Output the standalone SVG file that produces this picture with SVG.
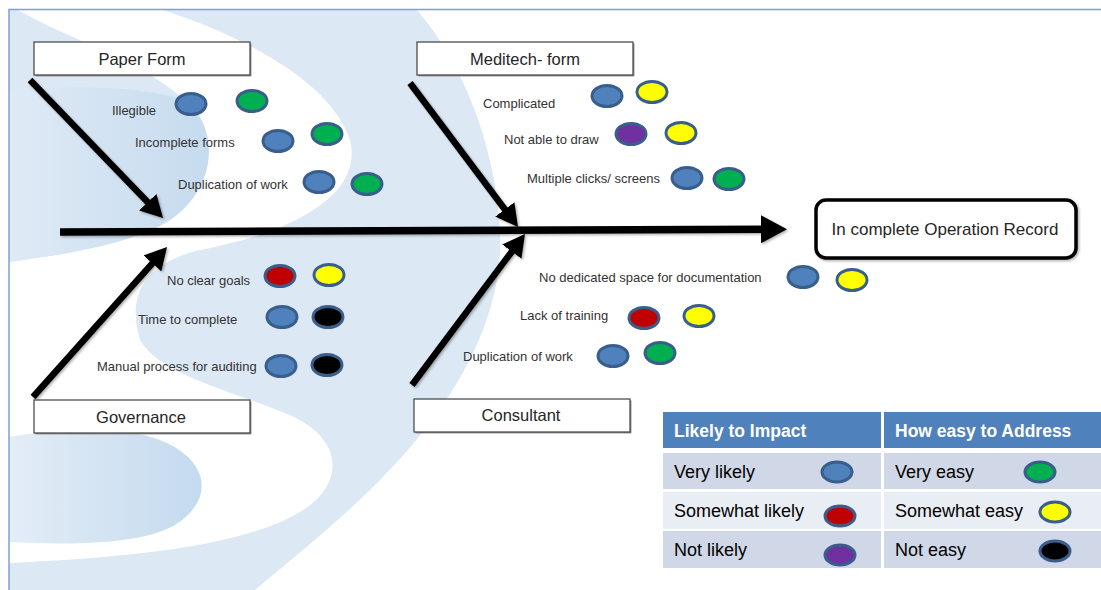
<svg xmlns="http://www.w3.org/2000/svg" width="1101" height="590" viewBox="0 0 1101 590">
  <defs>
    <linearGradient id="blobUpper" x1="0" y1="0" x2="1" y2="0">
      <stop offset="0" stop-color="#dfeaf6"/>
      <stop offset="1" stop-color="#c6dbee"/>
    </linearGradient>
    <linearGradient id="blobLower" x1="0" y1="0" x2="1" y2="0">
      <stop offset="0" stop-color="#e3edf7"/>
      <stop offset="1" stop-color="#c4daee"/>
    </linearGradient>
    <marker id="headMain" markerUnits="userSpaceOnUse" markerWidth="26" markerHeight="28" viewBox="0 0 26 28" refX="12" refY="14" orient="auto">
      <path d="M0,0 L26,14 L0,28 Z" fill="#000"/>
    </marker>
    <marker id="headBone" markerUnits="userSpaceOnUse" markerWidth="22" markerHeight="24" viewBox="0 0 22 24" refX="8" refY="12" orient="auto">
      <path d="M0,0 L22,12 L0,24 Z" fill="#000"/>
    </marker>
    <filter id="soft" x="-10%" y="-10%" width="130%" height="130%">
      <feDropShadow dx="1.5" dy="1.5" stdDeviation="1.2" flood-color="#000" flood-opacity="0.3"/>
    </filter>
    <style>
      .box { fill: #ffffff; stroke: #3f3f3f; stroke-width: 1.2; }
      .boxShadow { fill: #9a9a9a; }
      .boxText { font-family: "Liberation Sans", Arial, sans-serif; font-size: 16.5px; fill: #262626; text-anchor: middle; }
      .label { font-family: "Liberation Sans", Arial, sans-serif; font-size: 13px; fill: #333333; }
      .dot { stroke: #3a5e8c; stroke-width: 3; }
      .blue { fill: #4f81bd; }
      .green { fill: #00b050; }
      .yellow { fill: #ffff00; }
      .red { fill: #c00000; }
      .purple { fill: #7030a0; }
      .black { fill: #000000; }
      .bone { stroke: #000; stroke-width: 6.5; fill: none; }
      .legHead { fill: #4f81bd; }
      .legDark { fill: #d0d8e8; }
      .legLight { fill: #e9edf4; }
      .legHeadText { font-family: "Liberation Sans", Arial, sans-serif; font-size: 17.5px; font-weight: bold; fill: #ffffff; }
      .legText { font-family: "Liberation Sans", Arial, sans-serif; font-size: 18px; fill: #000000; }
    </style>
  </defs>

  <!-- page backdrop with the S-shaped swoosh -->
  <g id="backdrop">
    <rect x="0" y="0" width="1101" height="590" fill="#ffffff"/>
    <path d="M9,10 L417,10 C460,60 495,140 500,230 C505,330 440,420 380,480 C330,530 290,560 255,590 L9,590 Z" fill="#dce8f4"/>
    <path d="M18,10 L163,10 C240,35 330,80 350,140 C365,200 280,235 200,250 C150,262 125,290 140,340 C160,375 230,390 290,415 C345,440 345,485 300,512 C240,548 120,558 9,563 L9,262 C60,255 130,245 170,220 C215,190 222,130 185,100 C140,60 70,40 18,10 Z" fill="#ffffff"/>
    <path d="M9,90 C80,84 150,88 185,100 C222,130 215,190 170,220 C130,245 60,255 9,262 Z" fill="url(#blobUpper)"/>
    <path d="M9,437 C60,428 120,425 160,440 C210,460 215,500 175,525 C140,545 70,545 9,542 Z" fill="url(#blobLower)"/>
    <path d="M9,590 L9,9.5 L1101,9.5" fill="none" stroke="#7f9fd6" stroke-width="1.5"/>
  </g>

  <!-- spine and bones -->
  <g id="connectors" filter="url(#soft)">
    <line x1="60" y1="232" x2="773" y2="229.2" stroke="#000" stroke-width="7.5" marker-end="url(#headMain)"/>
    <line class="bone" x1="30" y1="80" x2="153.3" y2="207.9" marker-end="url(#headBone)"/>
    <line class="bone" x1="410" y1="83" x2="509.6" y2="215.8" marker-end="url(#headBone)"/>
    <line class="bone" x1="33" y1="397" x2="157.7" y2="257.4" marker-end="url(#headBone)"/>
    <line class="bone" x1="412" y1="385" x2="516.6" y2="245.2" marker-end="url(#headBone)"/>
  </g>

  <!-- category boxes -->
  <g id="paper-form">
    <rect class="boxShadow" x="35.5" y="43.5" width="216" height="33"/>
    <rect class="box" x="34" y="42" width="216" height="33"/>
    <text class="boxText" x="142" y="65">Paper Form</text>
  </g>
  <g id="meditech-form">
    <rect class="boxShadow" x="418.5" y="43.5" width="216" height="33"/>
    <rect class="box" x="417" y="42" width="216" height="33"/>
    <text class="boxText" x="525" y="65">Meditech- form</text>
  </g>
  <g id="governance">
    <rect class="boxShadow" x="35.5" y="401.5" width="216" height="33"/>
    <rect class="box" x="34" y="400" width="216" height="33"/>
    <text class="boxText" x="141" y="423">Governance</text>
  </g>
  <g id="consultant">
    <rect class="boxShadow" x="415.5" y="400.5" width="216" height="33"/>
    <rect class="box" x="414" y="399" width="216" height="33"/>
    <text class="boxText" x="521" y="421">Consultant</text>
  </g>
  <g id="outcome">
    <rect x="816" y="200" width="260" height="58" rx="10" fill="#ffffff" stroke="#000" stroke-width="3.5" filter="url(#soft)"/>
    <text class="boxText" x="945" y="235" style="font-size:17px">In complete Operation Record</text>
  </g>

  <!-- Paper Form causes -->
  <g id="paper-causes">
    <text class="label" x="112" y="115">Illegible</text>
    <ellipse class="dot blue" cx="191" cy="104" rx="15" ry="10.5"/>
    <ellipse class="dot green" cx="252" cy="101" rx="15" ry="10.5"/>
    <text class="label" x="135" y="147">Incomplete forms</text>
    <ellipse class="dot blue" cx="278" cy="141" rx="15" ry="10.5"/>
    <ellipse class="dot green" cx="327" cy="134" rx="15" ry="10.5"/>
    <text class="label" x="178" y="189">Duplication of work</text>
    <ellipse class="dot blue" cx="319" cy="182" rx="15" ry="10.5"/>
    <ellipse class="dot green" cx="367" cy="184" rx="15" ry="10.5"/>
  </g>

  <!-- Meditech causes -->
  <g id="meditech-causes">
    <text class="label" x="483" y="108">Complicated</text>
    <ellipse class="dot blue" cx="607" cy="96" rx="15" ry="10.5"/>
    <ellipse class="dot yellow" cx="652" cy="92" rx="15" ry="10.5"/>
    <text class="label" x="504" y="144">Not able to draw</text>
    <ellipse class="dot purple" cx="631" cy="134" rx="15" ry="10.5"/>
    <ellipse class="dot yellow" cx="681" cy="133" rx="15" ry="10.5"/>
    <text class="label" x="527" y="183">Multiple clicks/ screens</text>
    <ellipse class="dot blue" cx="687" cy="178" rx="15" ry="10.5"/>
    <ellipse class="dot green" cx="729" cy="179" rx="15" ry="10.5"/>
  </g>

  <!-- Governance causes -->
  <g id="governance-causes">
    <text class="label" x="167" y="285">No clear goals</text>
    <ellipse class="dot red" cx="280" cy="276" rx="15" ry="10.5"/>
    <ellipse class="dot yellow" cx="329" cy="275" rx="15" ry="10.5"/>
    <text class="label" x="138" y="324">Time to complete</text>
    <ellipse class="dot blue" cx="282" cy="317" rx="15" ry="10.5"/>
    <ellipse class="dot black" cx="328" cy="317" rx="15" ry="10.5"/>
    <text class="label" x="97" y="371">Manual process for auditing</text>
    <ellipse class="dot blue" cx="281" cy="366" rx="15" ry="10.5"/>
    <ellipse class="dot black" cx="327" cy="365" rx="15" ry="10.5"/>
  </g>

  <!-- Consultant causes -->
  <g id="consultant-causes">
    <text class="label" x="539" y="282">No dedicated space for documentation</text>
    <ellipse class="dot blue" cx="803" cy="277" rx="15" ry="10.5"/>
    <ellipse class="dot yellow" cx="852" cy="280" rx="15" ry="10.5"/>
    <text class="label" x="520" y="320">Lack of training</text>
    <ellipse class="dot red" cx="644" cy="318" rx="15" ry="10.5"/>
    <ellipse class="dot yellow" cx="699" cy="316" rx="15" ry="10.5"/>
    <text class="label" x="463" y="361">Duplication of work</text>
    <ellipse class="dot blue" cx="613" cy="356" rx="15" ry="10.5"/>
    <ellipse class="dot green" cx="660" cy="353" rx="15" ry="10.5"/>
  </g>

  <!-- rating key -->
  <g id="legend">
    <rect class="legHead" x="663" y="412" width="218" height="36"/>
    <rect class="legHead" x="884" y="412" width="217" height="36"/>
    <rect class="legDark" x="663" y="453" width="218" height="36"/>
    <rect class="legDark" x="884" y="453" width="217" height="36"/>
    <rect class="legLight" x="663" y="492" width="218" height="37"/>
    <rect class="legLight" x="884" y="492" width="217" height="37"/>
    <rect class="legDark" x="663" y="531" width="218" height="37"/>
    <rect class="legDark" x="884" y="531" width="217" height="37"/>
    <text class="legHeadText" x="674" y="437">Likely to Impact</text>
    <text class="legHeadText" x="895" y="437">How easy to Address</text>
    <text class="legText" x="674" y="478">Very likely</text>
    <ellipse class="dot blue" cx="837" cy="472" rx="15" ry="10"/>
    <text class="legText" x="674" y="517">Somewhat likely</text>
    <ellipse class="dot red" cx="840" cy="516" rx="15" ry="10"/>
    <text class="legText" x="674" y="556">Not likely</text>
    <ellipse class="dot purple" cx="840" cy="555" rx="15" ry="10"/>
    <text class="legText" x="895" y="478">Very easy</text>
    <ellipse class="dot green" cx="1040" cy="472" rx="15" ry="10"/>
    <text class="legText" x="895" y="517">Somewhat easy</text>
    <ellipse class="dot yellow" cx="1055" cy="512" rx="15" ry="10"/>
    <text class="legText" x="895" y="556">Not easy</text>
    <ellipse class="dot black" cx="1055" cy="551" rx="15" ry="10"/>
  </g>
</svg>
